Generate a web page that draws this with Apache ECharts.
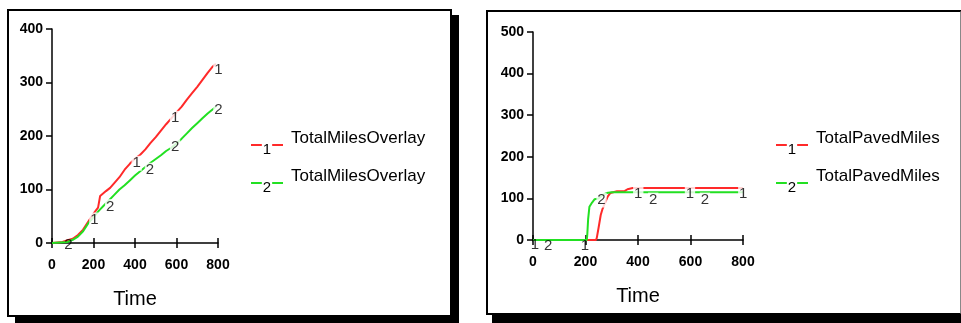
<!DOCTYPE html>
<html>
<head>
<meta charset="utf-8">
<script src="https://cdn.jsdelivr.net/npm/echarts@6/dist/echarts.min.js"></script>
<style>
  html,body{margin:0;padding:0;background:#fff;}
  #wrap{position:relative;width:961px;height:323px;overflow:hidden;background:#fff;}
  .sh{position:absolute;background:#000;}
  .fr{position:absolute;background:#fff;border:2px solid #000;box-sizing:border-box;}
  #chart{position:absolute;left:0;top:0;width:961px;height:323px;}
</style>
</head>
<body>
<div id="wrap">
  <div class="sh" style="left:15px;top:15px;width:444px;height:308px;"></div>
  <div class="fr" style="left:7px;top:9px;width:445px;height:308px;"></div>
  <div class="sh" style="left:492px;top:18px;width:480px;height:305px;"></div>
  <div class="fr" style="left:486px;top:10px;width:476px;height:305px;border-right-color:#888;"></div>
  <div id="chart"></div>
</div>
<script>
// ---- data ----
const xTicks = [0, 200, 400, 600, 800];
const leftYTicks = [0, 100, 200, 300, 400];
const rightYTicks = [0, 100, 200, 300, 400, 500];

const leftSeriesName = 'TotalMilesOverlay';
const rightSeriesName = 'TotalPavedMiles';

const leftRed = [[0,0],[50,2],[75,5],[100,8],[125,15],[150,25],[175,40],[200,55],[222,66],[232,88],[260,97],[280,103],[300,112],[325,123],[350,137],[375,148],[400,158],[425,165],[450,175],[475,187],[500,198],[525,210],[550,222],[575,233],[600,244],[625,255],[650,268],[675,280],[700,292],[725,305],[750,318],[775,330],[790,335]];
const leftGreen = [[0,0],[75,2],[100,6],[125,12],[150,22],[175,37],[200,48],[225,60],[250,70],[275,80],[300,90],[325,100],[350,108],[375,117],[400,126],[425,134],[450,142],[475,150],[500,157],[525,164],[550,172],[575,178],[600,186],[625,195],[650,205],[675,215],[700,224],[725,233],[750,242],[775,250],[790,255]];
const leftMarks1 = [[204,43],[408,149],[593,233],[802,323]];
const leftMarks2 = [[79,-4],[280,68],[472,136],[593,180],[802,249]];

const rightRed = [[0,0],[240,0],[243,5],[250,30],[258,60],[265,75],[275,90],[285,105],[295,113],[320,117],[350,118],[360,122],[380,125],[800,125]];
const rightGreen = [[0,0],[205,0],[207,15],[210,50],[215,80],[225,90],[235,98],[250,100],[265,108],[280,113],[300,115],[800,115]];
const rightMarks1 = [[7,-12],[198,-15],[401,112],[598,112],[801,112]];
const rightMarks2 = [[58,-15],[261,96],[458,96],[655,96]];

// ---- chart ----
const RED = '#ff2a2a', GREEN = '#22e022';
const FONT = 'Liberation Sans, Arial, sans-serif';
const chart = echarts.init(document.getElementById('chart'), null, {renderer: 'canvas'});

function xAxisPair(gi){
  return [
    {gridIndex: gi, type: 'value', position: 'bottom', min: 0, max: 800, interval: 200,
     axisLine: {show: true, onZero: false, lineStyle: {color: '#000', width: 1.5}},
     axisTick: {show: true, inside: false, length: 5, lineStyle: {color: '#000', width: 1.5}},
     axisLabel: {show: true, color: '#000', fontSize: 14, fontWeight: 'bold', fontFamily: FONT, margin: 15,
                 customValues: xTicks},
     splitLine: {show: false},
     name: 'Time', nameLocation: 'middle', nameGap: 46,
     nameTextStyle: {color: '#000', fontSize: 20, fontFamily: FONT}},
    {gridIndex: gi, type: 'value', position: 'bottom', offset: 0, min: 0, max: 800, interval: 200,
     axisLine: {show: false, onZero: false},
     axisTick: {show: true, inside: true, length: 5, lineStyle: {color: '#000', width: 1.5}},
     axisLabel: {show: false}, splitLine: {show: false}}
  ];
}
function yAxis(gi, max, ticks){
  return {gridIndex: gi, type: 'value', min: 0, max: max, interval: 100,
    axisLine: {show: true, onZero: false, lineStyle: {color: '#000', width: 1.5}},
    axisTick: {show: true, inside: false, length: 6, lineStyle: {color: '#000', width: 1.5}},
    axisLabel: {color: '#000', fontSize: 14, fontWeight: 'bold', fontFamily: FONT, margin: 9,
                customValues: ticks},
    splitLine: {show: false}};
}
function lineSeries(data, color, xi, yi, name){
  return {type: 'line', name: name, data: data, xAxisIndex: xi, yAxisIndex: yi,
    showSymbol: false, symbol: 'none', lineStyle: {color: color, width: 2}, z: 3, clip: false,
    animation: false};
}
function markSeries(data, text, xi, yi){
  return {type: 'scatter', data: data.map(p => ({value: p,
      label: {backgroundColor: p[1] < 0 ? 'transparent' : '#fff'}})),
    xAxisIndex: xi, yAxisIndex: yi, symbolSize: 1, clip: false, z: 6,
    itemStyle: {color: 'rgba(0,0,0,0)'},
    label: {show: true, position: 'inside', formatter: text, color: '#000',
      fontSize: 15, fontFamily: FONT, padding: [0, 1]},
    animation: false, silent: true};
}
function legendItem(x, y, color, num, label){
  return [
    {type: 'line', shape: {x1: x, y1: y, x2: x + 32, y2: y}, style: {stroke: color, lineWidth: 2}, z: 10},
    {type: 'text', x: x + 16, y: y + 5, style: {text: num, fill: '#000', font: '15px ' + FONT,
      align: 'center', verticalAlign: 'middle', backgroundColor: '#fff', padding: [0, 1]}, z: 11},
    {type: 'text', x: x + 40, y: y - 6.5, style: {text: label, fill: '#000', font: '17px ' + FONT,
      align: 'left', verticalAlign: 'middle'}, z: 11}
  ];
}

const option = {
  backgroundColor: 'transparent',
  animation: false,
  grid: [
    {left: 52, top: 29, width: 166, height: 214},
    {left: 533, top: 32, width: 210, height: 208}
  ],
  xAxis: [...xAxisPair(0), ...xAxisPair(1)],
  yAxis: [yAxis(0, 400, leftYTicks), yAxis(1, 500, rightYTicks)],
  series: [
    lineSeries(leftRed, RED, 0, 0, leftSeriesName),
    lineSeries(leftGreen, GREEN, 0, 0, leftSeriesName),
    markSeries(leftMarks1, '1', 0, 0),
    markSeries(leftMarks2, '2', 0, 0),
    lineSeries(rightRed, RED, 2, 1, rightSeriesName),
    lineSeries(rightGreen, GREEN, 2, 1, rightSeriesName),
    markSeries(rightMarks1, '1', 2, 1),
    markSeries(rightMarks2, '2', 2, 1)
  ],
  graphic: {elements: [
    ...legendItem(251, 145, RED, '1', leftSeriesName),
    ...legendItem(251, 183, GREEN, '2', leftSeriesName),
    ...legendItem(776, 145, RED, '1', rightSeriesName),
    ...legendItem(776, 183, GREEN, '2', rightSeriesName)
  ]}
};
chart.setOption(option);
</script>
</body>
</html>
